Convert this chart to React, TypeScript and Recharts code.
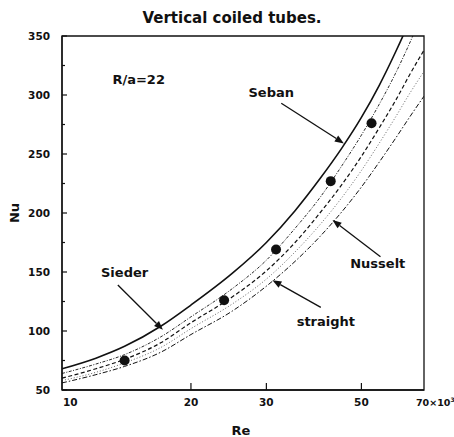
import React from 'react';
import {
  ComposedChart,
  Line,
  XAxis,
  YAxis,
  ReferenceArea,
  ReferenceLine,
  ReferenceDot,
} from 'recharts';

// Reynolds number grid (x 10^3)
const reGrid = [10, 12, 14, 17, 20, 25, 30, 35, 40, 45, 50, 55, 60, 65, 70];
// Curves (Nu)
const sebanNu = [68, 77, 87, 104, 122, 149, 175, 202, 229, 255, 281, 308, 336, 364, 393];
const siederNu = [64, 72, 80, 95, 112, 136, 160, 187, 213, 240, 266, 292, 318, 345, 372];
const dashedNu = [60, 68, 76, 90, 107, 129, 151, 175, 200, 224, 248, 272, 295, 318, 338];
const nusseltNu = [58, 65, 73, 86, 102, 123, 144, 167, 190, 213, 236, 259, 281, 302, 320];
const straightNu = [56, 63, 70, 82, 97, 117, 138, 159, 180, 201, 222, 243, 263, 282, 299];

// Experimental points
const expRe = [14.0, 23.9, 31.6, 42.4, 52.8];
const expNu = [75, 126, 169, 227, 276];

// Axis ticks
const xTicks = [10, 20, 30, 50, 70];
const yTicks = [50, 75, 100, 125, 150, 175, 200, 225, 250, 275, 300, 325, 350];

const rows = reGrid.map((re, i) => ({
  re,
  seban: sebanNu[i],
  sieder: siederNu[i],
  dashed: dashedNu[i],
  nusselt: nusseltNu[i],
  straight: straightNu[i],
}));
const points = expRe.map((re, i) => ({ re, exp: expNu[i] }));

// Annotation arrows: [start, tip] in data coordinates
const arrows = [
  [{ x: 32.5, y: 293 }, { x: 45.5, y: 259 }],
  [{ x: 13.5, y: 139 }, { x: 17.2, y: 101 }],
  [{ x: 55.4, y: 163 }, { x: 42.8, y: 194 }],
  [{ x: 40.2, y: 120 }, { x: 31.0, y: 143 }],
];
// Annotation labels
const labelTexts = ['R/a=22', 'Seban', 'Sieder', 'Nusselt', 'straight'];
const labelRe = [15.1, 30.8, 14.0, 54.6, 41.3];
const labelNu = [313, 302, 150, 157, 108];

const INK = '#111';
const FONT = '"DejaVu Sans", sans-serif';

const XTick = (props: any) => {
  const { x, y, payload } = props;
  const v = payload.value;
  let anchor: any = 'middle';
  let tx = x;
  if (v === 10) { anchor = 'start'; tx = x + 1; }
  if (v === 70) { anchor = 'start'; tx = x - 8; }
  return (
    <g>
      {v !== 10 && v !== 70 && (
        <line x1={x} x2={x} y1={y} y2={y - 7} stroke={INK} strokeWidth={1.2} />
      )}
      <text x={tx} y={y + 16} textAnchor={anchor} fontFamily={FONT} fontWeight="bold" fontSize={v === 70 ? 9.5 : 10.5} fill={INK}>
        {v === 70 ? (
          <>
            {'70×10'}
            <tspan dy={-4} fontSize={6}>3</tspan>
          </>
        ) : (
          String(v)
        )}
      </text>
    </g>
  );
};

const YTick = (props: any) => {
  const { x, y, payload } = props;
  const v = payload.value;
  const major = v % 50 === 0;
  return (
    <g>
      <line x1={x} x2={x + (major ? 5 : 3)} y1={y} y2={y} stroke={INK} strokeWidth={1.2} />
      {major && (
        <text x={x - 12} y={y} dy="0.36em" textAnchor="end" fontFamily={FONT} fontWeight="bold" fontSize={10.5} fill={INK}>
          {v}
        </text>
      )}
    </g>
  );
};

const ArrowShape = (props: any) => {
  const { x1, y1, x2, y2 } = props;
  if (![x1, y1, x2, y2].every((v) => typeof v === 'number')) return null;
  const ang = Math.atan2(y2 - y1, x2 - x1);
  const L = 9;
  const W = 3.5;
  const bx = x2 - L * Math.cos(ang);
  const by = y2 - L * Math.sin(ang);
  const px = -Math.sin(ang) * W;
  const py = Math.cos(ang) * W;
  return (
    <g>
      <line x1={x1} y1={y1} x2={bx} y2={by} stroke={INK} strokeWidth={1.3} />
      <polygon points={`${x2},${y2} ${bx + px},${by + py} ${bx - px},${by - py}`} fill={INK} />
    </g>
  );
};

const makeLabel = (text: string) => (props: any) => {
  const { cx, cy } = props;
  return (
    <text x={cx} y={cy} dy="0.36em" textAnchor="middle" fontFamily={FONT} fontWeight="bold" fontSize={13} fill={INK}>
      {text}
    </text>
  );
};

export default function App() {
  return (
    <div style={{ position: 'absolute', left: 0, top: 0, width: 454, height: 437, background: '#fff' }}>
      <div
        style={{
          position: 'absolute',
          left: 0,
          top: 9,
          width: 464,
          textAlign: 'center',
          fontFamily: FONT,
          fontWeight: 'bold',
          fontSize: 15,
          lineHeight: '18px',
          color: INK,
        }}
      >
        Vertical coiled tubes.
      </div>
      <ComposedChart
        width={454}
        height={437}
        data={rows}
        margin={{ top: 36, right: 30, bottom: 3, left: 12 }}
      >
        <XAxis
          dataKey="re"
          type="number"
          scale="log"
          domain={[10, 70]}
          ticks={xTicks}
          interval={0}
          allowDataOverflow
          tickSize={0}
          tickMargin={0}
          tickLine={false}
          axisLine={{ stroke: INK, strokeWidth: 1.3 }}
          tick={<XTick />}
          height={44}
          label={{
            content: (p: any) => {
              const vb = p.viewBox;
              return (
                <text x={vb.x + vb.width / 2 - 2} y={435} textAnchor="middle" fontFamily={FONT} fontWeight="bold" fontSize={13} fill={INK}>
                  Re
                </text>
              );
            },
          }}
        />
        <YAxis
          type="number"
          domain={[50, 350]}
          ticks={yTicks}
          interval={0}
          allowDataOverflow
          tickSize={0}
          tickMargin={0}
          tickLine={false}
          axisLine={{ stroke: INK, strokeWidth: 1.3 }}
          tick={<YTick />}
          width={50}
          label={{
            content: (p: any) => {
              const vb = p.viewBox;
              const cx = 19;
              const cy = vb.y + vb.height / 2;
              return (
                <text x={cx} y={cy} transform={`rotate(-90 ${cx} ${cy})`} textAnchor="middle" fontFamily={FONT} fontWeight="bold" fontSize={13} fill={INK}>
                  Nu
                </text>
              );
            },
          }}
        />
        <ReferenceArea x1={10} x2={70} y1={50} y2={350} fill="none" stroke={INK} strokeWidth={1.3} />
        <Line dataKey="straight" type="monotone" stroke={INK} strokeWidth={1} strokeDasharray="5 2 1.5 2" dot={false} isAnimationActive={false} />
        <Line dataKey="nusselt" type="monotone" stroke="#555" strokeWidth={0.9} strokeDasharray="1 2" dot={false} isAnimationActive={false} />
        <Line dataKey="dashed" type="monotone" stroke={INK} strokeWidth={1.2} strokeDasharray="4 2.5" dot={false} isAnimationActive={false} />
        <Line dataKey="sieder" type="monotone" stroke={INK} strokeWidth={0.9} strokeDasharray="3 1.5 1 1.5" dot={false} isAnimationActive={false} />
        <Line dataKey="seban" type="monotone" stroke={INK} strokeWidth={1.6} dot={false} isAnimationActive={false} />
        <Line
          data={points}
          dataKey="exp"
          stroke="none"
          dot={{ r: 5, fill: INK, stroke: INK, strokeWidth: 0 }}
          isAnimationActive={false}
        />
        {arrows.map((seg, i) => (
          <ReferenceLine key={`a${i}`} segment={seg} shape={ArrowShape} ifOverflow="visible" />
        ))}
        {labelTexts.map((t, i) => (
          <ReferenceDot key={`l${i}`} x={labelRe[i]} y={labelNu[i]} r={0} ifOverflow="visible" shape={makeLabel(t)} />
        ))}
      </ComposedChart>
    </div>
  );
}
